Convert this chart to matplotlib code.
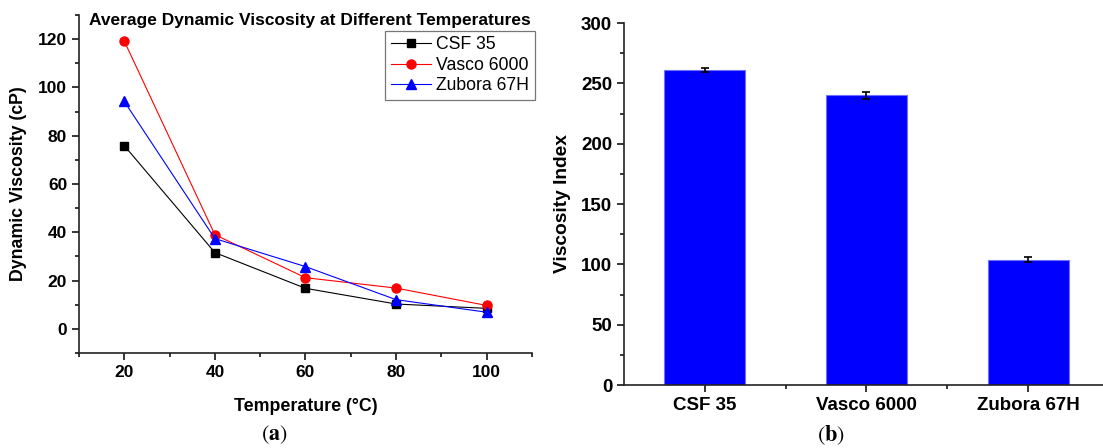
import matplotlib
matplotlib.use("Agg")
import matplotlib.pyplot as plt
from matplotlib.ticker import MultipleLocator, FixedLocator
import numpy as np

plt.rcParams['font.family'] = ['Liberation Sans', 'DejaVu Sans']
plt.rcParams['mathtext.fontset'] = 'stix'

temps = [20, 40, 60, 80, 100]
csf35 = [75.9, 31.6, 16.8, 10.3, 8.5]
vasco6000 = [119.2, 39.0, 21.2, 16.9, 9.7]
zubora67h = [94.2, 37.4, 25.8, 12.1, 6.9]

fluids = ["CSF 35", "Vasco 6000", "Zubora 67H"]
vi_values = [261, 240, 104]
vi_errors = [2, 3, 2]

fig = plt.figure(figsize=(11.03, 4.48), dpi=100)

# ---- left panel ----
ax1 = fig.add_axes([0.0716, 0.212, 0.4107, 0.7545])
ax1.plot(temps, csf35, color='black', lw=0.8, marker='s', ms=6, label='CSF 35')
ax1.plot(temps, vasco6000, color='red', lw=0.8, marker='o', ms=6.5, label='Vasco 6000')
ax1.plot(temps, zubora67h, color='blue', lw=0.8, marker='^', ms=7, label='Zubora 67H')
ax1.set_xlim(10, 110)
ax1.set_ylim(-10, 130)
ax1.xaxis.set_major_locator(FixedLocator(temps))
ax1.xaxis.set_minor_locator(FixedLocator([10, 30, 50, 70, 90, 110]))
ax1.yaxis.set_major_locator(FixedLocator([0, 20, 40, 60, 80, 100, 120]))
ax1.yaxis.set_minor_locator(FixedLocator([-10, 10, 30, 50, 70, 90, 110, 130]))
for s in ['top', 'right']:
    ax1.spines[s].set_visible(False)
for s in ['left', 'bottom']:
    ax1.spines[s].set_linewidth(1.2)
    ax1.spines[s].set_color('#222222')
ax1.tick_params(which='major', direction='out', length=5, width=1.1, labelsize=12.5)
ax1.tick_params(which='minor', direction='out', length=3, width=1.1)
for lab in ax1.get_xticklabels() + ax1.get_yticklabels():
    lab.set_fontweight('bold')
ax1.set_xlabel('Temperature (°C)', fontsize=12.8, fontweight='bold', labelpad=13)
ax1.set_ylabel('Dynamic Viscosity (cP)', fontsize=12.8, fontweight='bold', labelpad=8)
ax1.set_title('Average Dynamic Viscosity at Different Temperatures', fontsize=12.5,
              fontweight='bold', x=0.509, y=1.0, pad=-7)
leg = ax1.legend(loc='upper right', bbox_to_anchor=(1.006, 0.953), fontsize=12.7,
                 frameon=True, fancybox=False, edgecolor='#555555', borderpad=0.3,
                 labelspacing=0.2, handlelength=2.3, handletextpad=0.3, borderaxespad=0)
leg.get_frame().set_linewidth(0.9)

# ---- right panel ----
ax2 = fig.add_axes([0.5657, 0.1406, 0.4397, 0.808])
pos = np.arange(1, len(fluids) + 1)
ax2.bar(pos, vi_values, width=0.5, color='#0000FF', edgecolor='#7070ff', linewidth=0.8,
        yerr=vi_errors, capsize=3, error_kw=dict(ecolor='black', elinewidth=1.2, capthick=1.2))
ax2.set_xlim(0.5, 3.5)
ax2.set_ylim(0, 300)
ax2.set_xticks(pos)
ax2.set_xticklabels(fluids)
ax2.xaxis.set_minor_locator(FixedLocator([1.5, 2.5]))
ax2.yaxis.set_major_locator(MultipleLocator(50))
ax2.yaxis.set_minor_locator(MultipleLocator(25))
for s in ['top', 'right']:
    ax2.spines[s].set_visible(False)
for s in ['left', 'bottom']:
    ax2.spines[s].set_linewidth(1.2)
    ax2.spines[s].set_color('#222222')
ax2.tick_params(which='major', direction='out', length=5, width=1.1, labelsize=13.5)
ax2.tick_params(which='minor', direction='out', length=3, width=1.1)
for lab in ax2.get_xticklabels() + ax2.get_yticklabels():
    lab.set_fontweight('bold')
ax2.set_ylabel('Viscosity Index', fontsize=13.8, fontweight='bold', labelpad=7)

# captions
fig.text(0.2485, 0.029, r'$(\mathbf{a})$', fontsize=16, ha='center', va='center')
fig.text(0.7535, 0.029, r'$(\mathbf{b})$', fontsize=16, ha='center', va='center')

fig.savefig('out.png', dpi=100)
